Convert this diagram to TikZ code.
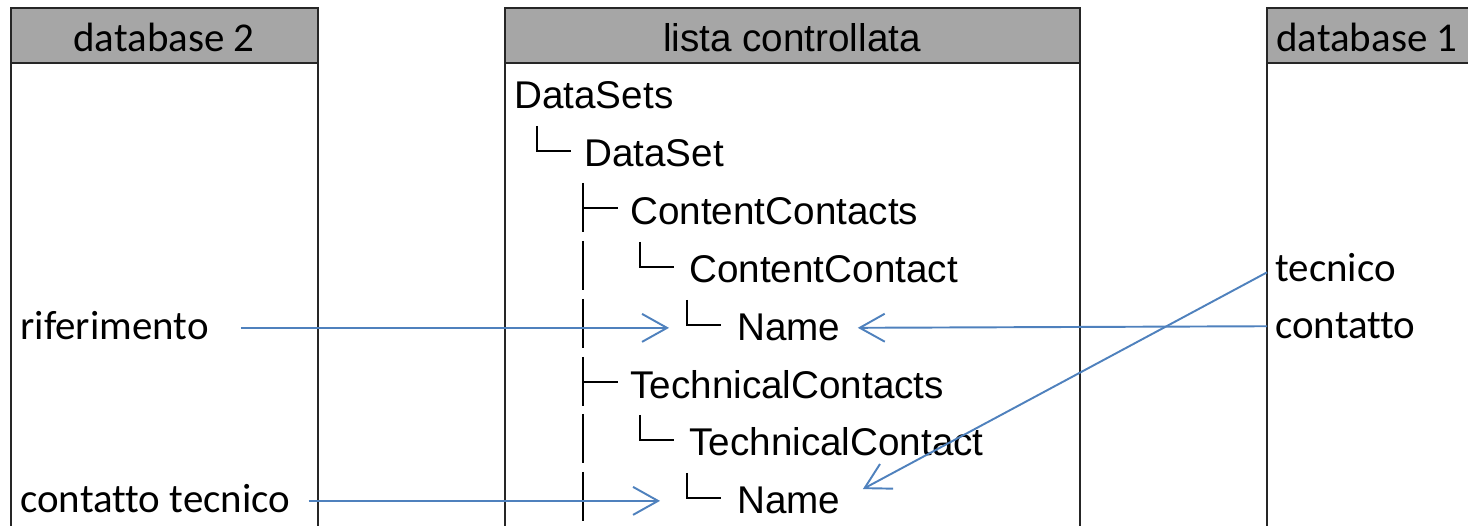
\documentclass[tikz,border=0pt]{standalone}
\usepackage{fontspec}
\setmainfont{Liberation Sans}
\newfontfamily\calibri[Ligatures=NoCommon]{Carlito}
\usetikzlibrary{arrows.meta}
\definecolor{linkblue}{RGB}{79,129,189}
\definecolor{headgray}{RGB}{166,166,166}

\begin{document}
\begin{tikzpicture}[x=0.02cm, y=-0.02cm,
    frame/.style={draw=black!85, line width=1.1pt},
    head/.style={frame, fill=headgray},
    tree/.style={anchor=base west, inner sep=0pt, font=\fontsize{22}{26}\selectfont},
    lbl/.style={anchor=base west, inner sep=0pt, font=\calibri\fontsize{23.3}{28}\selectfont},
    elbow/.style={line width=1.3pt, black},
    link/.style={draw=linkblue, line width=1.1pt, -{Straight Barb[length=0.5cm,width=0.56cm]}}]
          \useasboundingbox (0,0) rectangle (1468,526);
          \clip (0,0) rectangle (1468,526);
          % the three columns
          \draw[head] (11,8) rectangle (318,63);
          \draw[frame] (11,63) -- (11,540) (318,63) -- (318,540);
          \draw[head] (505,8) rectangle (1080,63);
          \draw[frame] (505,63) -- (505,540) (1080,63) -- (1080,540);
          \draw[head] (1267,8) rectangle (1520,63);
          \draw[frame] (1267,63) -- (1267,540);
          \node[lbl, anchor=base] (db2)  at (164,52) {database 2};
          \node[tree, anchor=base] (lista) at (792,52) {lista controllata};
          \node[lbl] (db1) at (1276,52) {database 1};
          % tree
          \node[tree] (sets)   at (514,109) {DataSets};
          \node[tree] (set)    at (584,167) {DataSet};
          \node[tree] (ccs)    at (630,225) {ContentContacts};
          \node[tree] (cc)     at (689,283) {ContentContact};
          \node[tree] (ccname) at (737,341) {Name};
          \node[tree] (tcs)    at (630,399) {TechnicalContacts};
          \node[tree] (tc)     at (689,456) {TechnicalContact};
          \node[tree] (tcname) at (737,514) {Name};
          \foreach \cx/\by in {537/167, 640/283, 687/341, 640/456, 687/514}
            \draw[elbow] (\cx,\by-41) -- (\cx,\by-16) -- (\cx+34,\by-16);
          \foreach \by in {225,283,341,399,456,514}
            \draw[elbow] (583,\by-42) -- (583,\by+7);
          \foreach \by in {225,399}
            \draw[elbow] (583,\by-17) -- (618,\by-17);
          % fields
          \node[lbl] (rif) at (20,340)   {riferimento};
          \node[lbl] (ctec) at (20,513)  {contatto tecnico};
          \node[lbl] (tec) at (1275,282) {tecnico};
          \node[lbl] (ctt) at (1275,339) {contatto};
          \draw[link, shorten <=0.64cm, shorten >=1.36cm] (rif.east |- ccname.west) -- (ccname.west);
          \draw[link, shorten <=0.36cm, shorten >=1.54cm] (ctec.east |- tcname.west) -- (tcname.west);
          \draw[link, shorten <=0.16cm, shorten >=0.34cm] (ctt.west) -- (ccname.east);
          \draw[link, shorten <=0.18cm, shorten >=0.5cm] (tec.west) -- (tcname.east);
        \end{tikzpicture}
\end{document}
